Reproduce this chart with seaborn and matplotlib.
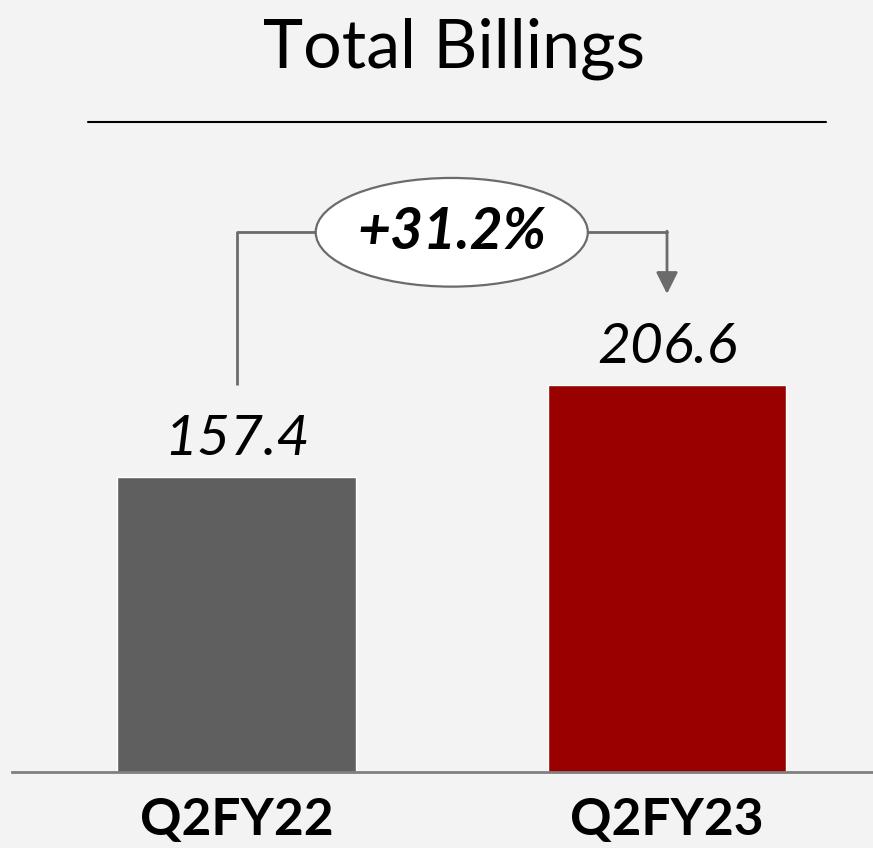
import matplotlib
matplotlib.use("Agg")
import matplotlib.pyplot as plt
from matplotlib.patches import Ellipse
import seaborn as sns
import pandas as pd

categories = ["Q2FY22", "Q2FY23"]
values = [157.4, 206.6]
growth_label = "+31.2%"
title = "Total Billings"
bar_colors = ["#5f5f5f", "#990000"]

BG = "#f3f3f3"
sns.set_theme(style="white")
plt.rcParams["font.family"] = ["Lato", "DejaVu Sans"]

W, H = 873, 848
fig = plt.figure(figsize=(W / 100, H / 100), dpi=100, facecolor=BG)

# axes: x from 12px to 873px, y from 772px (baseline) to 122px
ax = fig.add_axes([12 / W, (H - 772) / H, (W - 12) / W, (772 - 122) / H])
ax.set_facecolor(BG)

df = pd.DataFrame({"cat": categories, "val": values})
sns.barplot(data=df, x="cat", y="val", hue="cat", palette=bar_colors,
            width=0.555, legend=False, ax=ax, saturation=1)

px_per_unit = 1.874
ax.set_ylim(0, 650 / px_per_unit)
ax.set_xlim(-0.5215, 1.4785)
for s in ["top", "right", "left"]:
    ax.spines[s].set_visible(False)
ax.spines["bottom"].set_color("#7f7f7f")
ax.spines["bottom"].set_linewidth(2)
ax.set_yticks([])
ax.set_xlabel("")
ax.set_ylabel("")
ax.tick_params(axis="x", length=0, pad=18)
ax.set_xticks(range(len(categories)))
ax.set_xticklabels(categories, fontsize=37, fontweight="bold", color="black")

# value labels
for i, v in enumerate(values):
    ax.text(i, v + 11.5, f"{v:.1f}", ha="center", va="baseline", fontsize=41,
            style="italic", color="black")

# growth bracket
line_c = "#6b6b6b"
y_top = 288
ax.plot([0, 0, 0.185], [max(values), y_top, y_top], color=line_c, lw=2,
        solid_capstyle="butt", clip_on=False)
ax.plot([0.815, 1.0], [y_top, y_top], color=line_c, lw=2, clip_on=False)
ax.annotate("", xy=(1.0, max(values) + 48.5), xytext=(1.0, y_top + 0.6),
            arrowprops=dict(arrowstyle="-|>,head_length=1.1,head_width=0.55",
                            color=line_c, lw=2, shrinkA=0, shrinkB=0),
            annotation_clip=False)
ell = Ellipse((0.5, y_top), width=0.632, height=58, facecolor="white",
              edgecolor="#6b6b6b", lw=1.6, zorder=5, clip_on=False)
ax.add_patch(ell)
ax.text(0.5, y_top, growth_label, ha="center", va="center", fontsize=41,
        fontweight="bold", style="italic", color="black", zorder=6)

# title and rule
fig.text(454 / W, 1 - 68 / H, title, ha="center", va="baseline", fontsize=49,
         color="black")
fig.add_artist(plt.Line2D([88 / W, 826 / W], [1 - 122 / H, 1 - 122 / H],
                          color="black", lw=1.5))

fig.savefig("out.png", dpi=100, facecolor=BG)
